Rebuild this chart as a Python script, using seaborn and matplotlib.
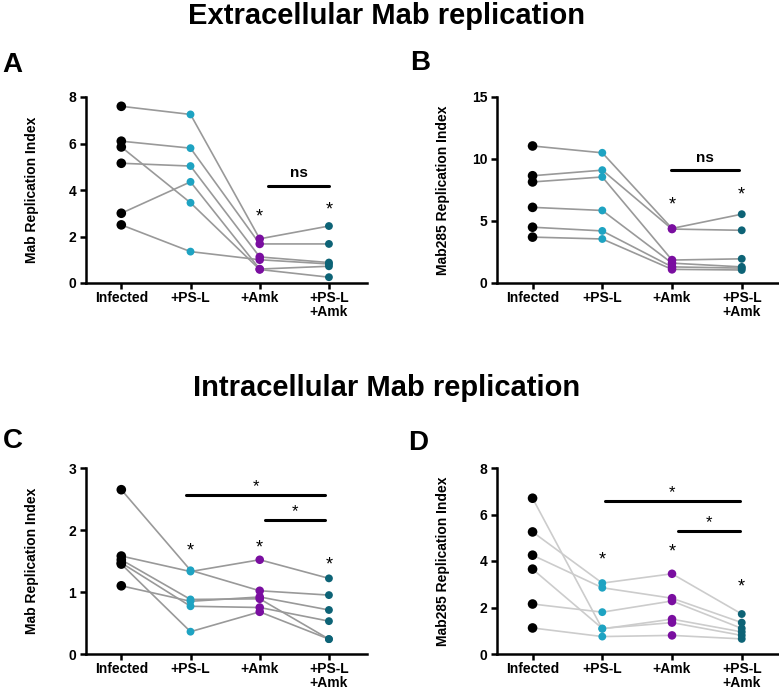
import numpy as np
import pandas as pd
import seaborn as sns
import matplotlib.pyplot as plt

groups = ["Infected", "+PS-L", "+Amk", "+PS-L\n+Amk"]

# Panel A - extracellular, Mab
a_infected = [7.6, 6.1, 5.15, 3.0, 5.85, 2.5]
a_psl = [7.25, 5.8, 5.03, 4.35, 3.45, 1.35]
a_amk = [1.9, 1.68, 1.12, 0.6, 0.58, 1.0]
a_combo = [2.45, 1.68, 0.88, 0.72, 0.25, 0.82]

# Panel B - extracellular, Mab285
b_infected = [11.05, 8.65, 8.15, 6.1, 4.5, 3.7]
b_psl = [10.5, 9.1, 8.55, 5.85, 4.2, 3.55]
b_amk = [4.4, 4.35, 1.85, 1.6, 1.3, 1.1]
b_combo = [5.55, 4.25, 1.95, 1.3, 1.2, 1.05]

# Panel C - intracellular, Mab
c_infected = [2.65, 1.58, 1.1, 1.52, 1.47, 1.45]
c_psl = [1.35, 1.33, 0.85, 0.88, 0.77, 0.36]
c_amk = [1.02, 1.52, 0.92, 0.89, 0.75, 0.68]
c_combo = [0.95, 1.22, 0.71, 0.24, 0.53, 0.24]

# Panel D - intracellular, Mab285
d_infected = [6.7, 5.25, 4.25, 3.65, 2.15, 1.12]
d_psl = [1.08, 3.05, 2.85, 1.1, 1.8, 0.75]
d_amk = [1.5, 3.45, 2.4, 1.35, 2.28, 0.8]
d_combo = [0.95, 1.72, 1.35, 0.8, 1.1, 0.65]

palette = {"Infected": "#000000", "+PS-L": "#1ea3c2",
           "+Amk": "#7a0ea0", "+PS-L\n+Amk": "#0d6376"}
sizes = {"Infected": 48, "+PS-L": 32, "+Amk": 38, "+PS-L\n+Amk": 32}

sns.set_style("ticks")
plt.rcParams['font.family'] = ['Liberation Sans', 'DejaVu Sans']
plt.rcParams.update({"text.color": "black", "axes.labelcolor": "black",
                     "axes.edgecolor": "black", "xtick.color": "black",
                     "ytick.color": "black"})


def long_table(cols):
    rows = []
    for gi, vals in enumerate(cols):
        for si, v in enumerate(vals):
            rows.append({"subject": si, "pos": gi, "group": groups[gi], "value": v})
    return pd.DataFrame(rows)


def panel(ax, df, line_color, yticks, ylabel, xmax):
    sns.lineplot(data=df, x="pos", y="value", units="subject", estimator=None,
                 color=line_color, lw=1.2, ax=ax, legend=False, zorder=1)
    sns.scatterplot(data=df, x="pos", y="value", hue="group", palette=palette,
                    size="group", sizes=sizes, linewidth=0, ax=ax,
                    legend=False, zorder=3, clip_on=False)
    ax.set_ylim(0, yticks[-1])
    ax.set_xlim(-0.51, xmax)
    ax.set_yticks(yticks)
    ax.set_xticks(range(len(groups)))
    ax.set_xticklabels(groups, fontsize=10, fontweight="bold", linespacing=1.0)
    ax.set_yticklabels([str(t) for t in yticks], fontsize=10, fontweight="bold")
    ax.set_xlabel("")
    ax.set_ylabel(ylabel, fontsize=10, fontweight="bold")
    ax.yaxis.set_label_coords(-0.167, 0.5)
    sns.despine(ax=ax)
    for s in ["left", "bottom"]:
        ax.spines[s].set_linewidth(1.8)
    ax.tick_params(width=1.8, length=4, pad=3)
    ax.tick_params(axis="x", pad=2)


def bar(ax, x1, x2, y, label, ty, bold=False):
    ax.plot([x1, x2], [y, y], color="black", lw=2.2, clip_on=False, zorder=4)
    ax.text((x1 + x2) / 2, ty, label, ha="center", va="center",
            fontsize=12 if label == "*" else 11,
            fontweight="bold" if bold else "normal")


def star(ax, x, y):
    ax.text(x, y, "*", ha="center", va="center", fontsize=13)


fig = plt.figure(figsize=(7.79, 6.92), dpi=100)
W, H = 779, 692


def add_axes(left, top, right, bottom):
    return fig.add_axes([left / W, 1 - bottom / H, (right - left) / W, (bottom - top) / H])


ax_a = add_axes(86, 97, 367, 283)
ax_b = add_axes(497, 97, 778, 283)
ax_c = add_axes(86, 468, 367, 654)
ax_d = add_axes(497, 468, 778, 654)

panel(ax_a, long_table([a_infected, a_psl, a_amk, a_combo]), "#999999",
      [0, 2, 4, 6, 8], "Mab Replication Index", 3.55)
bar(ax_a, 2.12, 3.0, 4.19, "ns", 4.75, bold=True)
star(ax_a, 2, 2.85)
star(ax_a, 3, 3.15)

panel(ax_b, long_table([b_infected, b_psl, b_amk, b_combo]), "#999999",
      [0, 5, 10, 15], "Mab285 Replication Index", 3.52)
bar(ax_b, 1.98, 2.96, 9.12, "ns", 10.05, bold=True)
star(ax_b, 2, 6.3)
star(ax_b, 3, 7.1)

panel(ax_c, long_table([c_infected, c_psl, c_amk, c_combo]), "#999999",
      [0, 1, 2, 3], "Mab Replication Index", 3.55)
bar(ax_c, 0.94, 2.94, 2.57, "*", 2.70)
bar(ax_c, 2.07, 2.94, 2.16, "*", 2.29)
star(ax_c, 1, 1.66)
star(ax_c, 2, 1.71)
star(ax_c, 3, 1.43)

panel(ax_d, long_table([d_infected, d_psl, d_amk, d_combo]), "#cccccc",
      [0, 2, 4, 6, 8], "Mab285 Replication Index", 3.52)
bar(ax_d, 1.04, 2.97, 6.57, "*", 6.95)
bar(ax_d, 2.08, 2.97, 5.28, "*", 5.66)
star(ax_d, 1, 4.05)
star(ax_d, 2, 4.40)
star(ax_d, 3, 2.87)

fig.text(387 / W, 1 - 24 / H, "Extracellular Mab replication", ha="center",
         va="baseline", fontsize=21, fontweight="bold")
fig.text(387 / W, 1 - 396 / H, "Intracellular Mab replication", ha="center",
         va="baseline", fontsize=21, fontweight="bold")

for x, y, letter in [(2, 72, "A"), (410, 70, "B"), (3, 448, "C"), (408, 450, "D")]:
    fig.text(x / W, 1 - y / H, letter, ha="left", va="baseline",
             fontsize=20, fontweight="bold")

fig.savefig("out.png", dpi=100)
